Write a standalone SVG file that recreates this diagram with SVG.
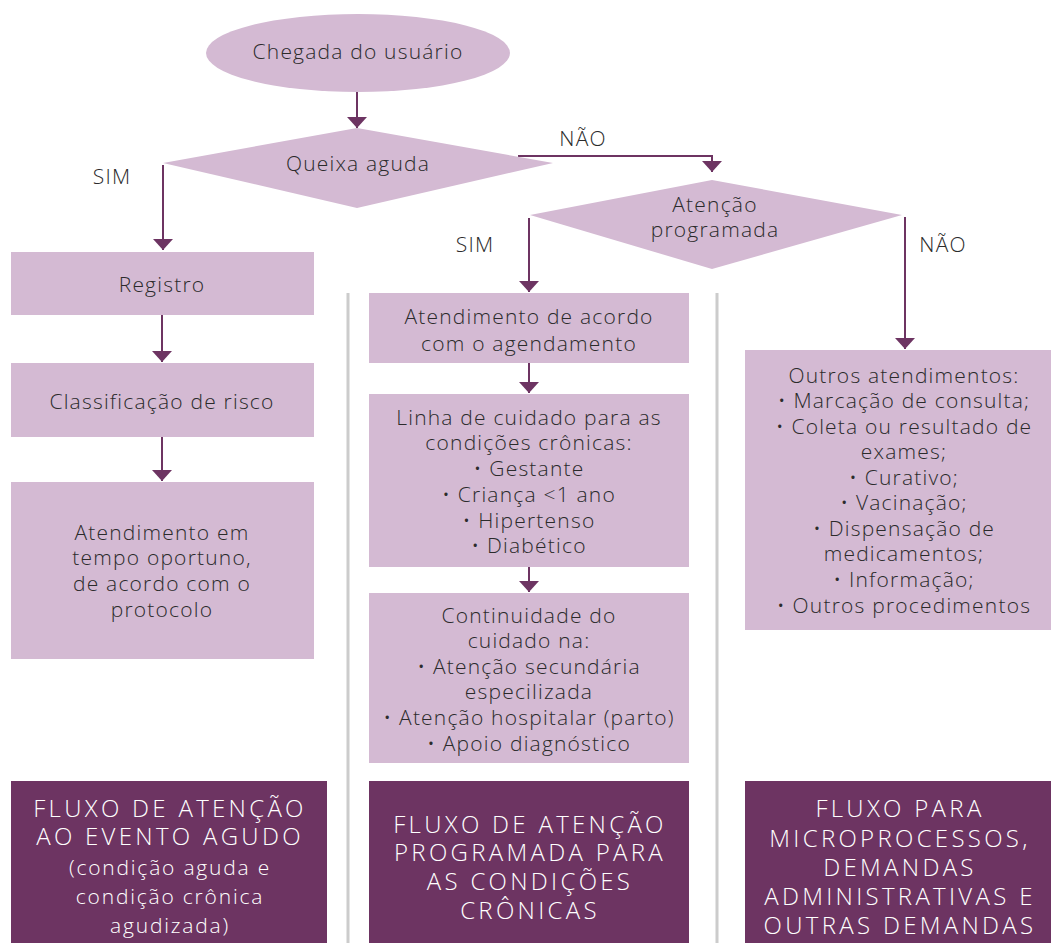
<svg xmlns="http://www.w3.org/2000/svg" width="1051" height="943" viewBox="0 0 1051 943">
<style>
.n{fill:#d4bad3}
.d{fill:#6d3462}
.t{font-family:"Open Sans","Liberation Sans",sans-serif;font-weight:300;font-size:21px;letter-spacing:1.2px;fill:#2b2b2b;text-anchor:middle}
.w{font-family:"Open Sans","Liberation Sans",sans-serif;font-weight:300;fill:#ffffff;text-anchor:middle}
.cap{font-size:24px;letter-spacing:3.3px}
.low{font-size:21px;letter-spacing:1.8px}
.c{stroke:#6d3462;stroke-width:2;fill:none}
.g{stroke:#cccccc;stroke-width:3}
</style>
<defs>
<marker id="ah" markerUnits="userSpaceOnUse" markerWidth="11" markerHeight="20" viewBox="0 0 11 20" refX="11" refY="10" orient="auto">
<path d="M0,0 L11,10 L0,20 z" fill="#6d3462"/>
</marker>
</defs>
<rect width="1051" height="943" fill="#ffffff"/>
<g id="dividers">
<line class="g" x1="348" y1="293" x2="348" y2="943"/>
<line class="g" x1="717" y1="293" x2="717" y2="943"/>
</g>
<g id="connectors">
<path class="c" d="M357,92 V128" marker-end="url(#ah)"/>
<path class="c" d="M163,165 V250" marker-end="url(#ah)"/>
<path class="c" d="M518,156 H712 V172" marker-end="url(#ah)"/>
<path class="c" d="M529,218 V292" marker-end="url(#ah)"/>
<path class="c" d="M905,217 V349" marker-end="url(#ah)"/>
<path class="c" d="M162,315 V362" marker-end="url(#ah)"/>
<path class="c" d="M162,437 V481" marker-end="url(#ah)"/>
<path class="c" d="M529,363 V393" marker-end="url(#ah)"/>
<path class="c" d="M529,567 V592" marker-end="url(#ah)"/>
<text class="t" x="583" y="146">NÃO</text>
<text class="t" x="112" y="184">SIM</text>
<text class="t" x="475" y="252">SIM</text>
<text class="t" x="943" y="252">NÃO</text>
</g>
<g id="chegada">
<ellipse class="n" cx="358" cy="53" rx="152" ry="39"/>
<text class="t" x="358" y="59">Chegada do usuário</text>
</g>
<g id="queixa">
<polygon class="n" points="357,128 553,163 357,208 163,163"/>
<text class="t" x="358" y="171">Queixa aguda</text>
</g>
<g id="atencao-programada">
<polygon class="n" points="712,180 902,215 712,269 530,215"/>
<text class="t" x="715" y="212">Atenção</text>
<text class="t" x="715" y="237">programada</text>
</g>
<g id="registro">
<rect class="n" x="11" y="252" width="303" height="63"/>
<text class="t" x="162" y="292">Registro</text>
</g>
<g id="classificacao">
<rect class="n" x="11" y="363" width="303" height="74"/>
<text class="t" x="162" y="409">Classificação de risco</text>
</g>
<g id="atendimento-oportuno">
<rect class="n" x="11" y="482" width="303" height="177"/>
<text class="t" x="162" y="540">Atendimento em</text>
<text class="t" x="162" y="565">tempo oportuno,</text>
<text class="t" x="162" y="591">de acordo com o</text>
<text class="t" x="162" y="617">protocolo</text>
</g>
<g id="agendamento">
<rect class="n" x="369" y="293" width="320" height="70"/>
<text class="t" x="529" y="324">Atendimento de acordo</text>
<text class="t" x="529" y="351">com o agendamento</text>
</g>
<g id="linha-cuidado">
<rect class="n" x="369" y="394" width="320" height="173"/>
<text class="t" x="529" y="425">Linha de cuidado para as</text>
<text class="t" x="529" y="450">condições crônicas:</text>
<text class="t" x="529" y="476">• Gestante</text>
<text class="t" x="529" y="502">• Criança &lt;1 ano</text>
<text class="t" x="529" y="528">• Hipertenso</text>
<text class="t" x="529" y="553">• Diabético</text>
</g>
<g id="continuidade">
<rect class="n" x="369" y="593" width="320" height="170"/>
<text class="t" x="529" y="623">Continuidade do</text>
<text class="t" x="529" y="648">cuidado na:</text>
<text class="t" x="529" y="674">• Atenção secundária</text>
<text class="t" x="529" y="699">especilizada</text>
<text class="t" x="529" y="725">• Atenção hospitalar (parto)</text>
<text class="t" x="529" y="751">• Apoio diagnóstico</text>
</g>
<g id="outros">
<rect class="n" x="745" y="350" width="306" height="280"/>
<text class="t" x="904" y="383">Outros atendimentos:</text>
<text class="t" x="904" y="408">• Marcação de consulta;</text>
<text class="t" x="904" y="434">• Coleta ou resultado de</text>
<text class="t" x="904" y="459">exames;</text>
<text class="t" x="904" y="485">• Curativo;</text>
<text class="t" x="904" y="510">• Vacinação;</text>
<text class="t" x="904" y="536">• Dispensação de</text>
<text class="t" x="904" y="561">medicamentos;</text>
<text class="t" x="904" y="587">• Informação;</text>
<text class="t" x="904" y="613">• Outros procedimentos</text>
</g>
<g id="fluxo-agudo">
<rect class="d" x="11" y="781" width="316" height="162"/>
<text class="w cap" x="170" y="817">FLUXO DE ATENÇÃO</text>
<text class="w cap" x="170" y="845">AO EVENTO AGUDO</text>
<text class="w low" x="170" y="875">(condição aguda e</text>
<text class="w low" x="170" y="904">condição crônica</text>
<text class="w low" x="170" y="933">agudizada)</text>
</g>
<g id="fluxo-programada">
<rect class="d" x="369" y="781" width="320" height="162"/>
<text class="w cap" x="530" y="833">FLUXO DE ATENÇÃO</text>
<text class="w cap" x="530" y="861">PROGRAMADA PARA</text>
<text class="w cap" x="530" y="890">AS CONDIÇÕES</text>
<text class="w cap" x="530" y="919">CRÔNICAS</text>
</g>
<g id="fluxo-micro">
<rect class="d" x="745" y="781" width="306" height="162"/>
<text class="w cap" x="900" y="817">FLUXO PARA</text>
<text class="w cap" x="900" y="847">MICROPROCESSOS,</text>
<text class="w cap" x="900" y="876">DEMANDAS</text>
<text class="w cap" x="900" y="905">ADMINISTRATIVAS E</text>
<text class="w cap" x="900" y="934">OUTRAS DEMANDAS</text>
</g>
</svg>
